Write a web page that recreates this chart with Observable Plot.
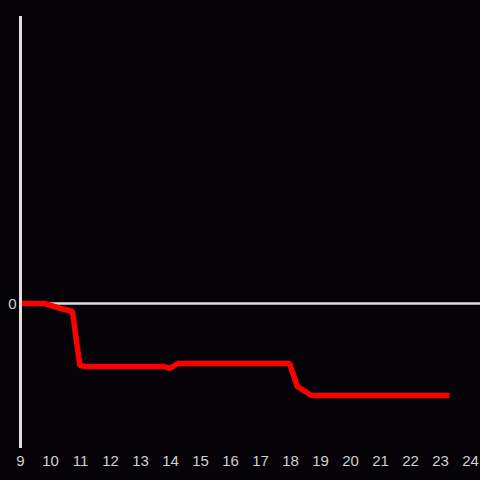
<!DOCTYPE html>
<html>
<head>
<meta charset="utf-8">
<script src="https://cdn.jsdelivr.net/npm/d3@7"></script>
<script src="https://cdn.jsdelivr.net/npm/@observablehq/plot@0.6"></script>
<style>
  html, body { margin: 0; padding: 0; background: #050307; }
  #chart { width: 480px; height: 480px; }
</style>
</head>
<body>
<div id="chart"></div>
<script>
const hours = [9, 9.8, 10.23, 10.73, 10.98, 11.2, 13.8, 13.97, 14.25, 17.97, 18.23, 18.7, 23.3];
const values = [0, 0, -4, -8, -62, -63, -63, -65, -60, -60, -83, -92, -92];
const xTicks = [9, 10, 11, 12, 13, 14, 15, 16, 17, 18, 19, 20, 21, 22, 23, 24];
const yTicks = [0];

const data = hours.map((h, i) => ({x: h, y: values[i]}));

const chart = Plot.plot({
  width: 480,
  height: 480,
  marginLeft: 20,
  marginRight: 0,
  marginTop: 16,
  marginBottom: 32,
  style: {background: "#050307", color: "#d0d0d0", fontFamily: "'Liberation Sans', Arial, sans-serif", fontSize: "15px"},
  x: {domain: [9, 24 + 1/3], label: null},
  y: {domain: [-145, 287], label: null},
  marks: [
    Plot.ruleY([0], {stroke: "#e0e0e0", strokeWidth: 2.5}),
    Plot.line(data, {x: "x", y: "y", stroke: "#ff0000", strokeWidth: 5.5, strokeLinecap: "butt", strokeLinejoin: "miter"}),
    Plot.ruleX([9], {stroke: "#e0e0e0", strokeWidth: 3}),
    Plot.axisX({ticks: xTicks, tickSize: 0, tickPadding: 7, tickFormat: d => String(d), fill: "#d0d0d0", label: null}),
    Plot.axisY({ticks: yTicks, tickSize: 0, tickPadding: 4, dy: 1, tickFormat: d => String(d), fill: "#d0d0d0", label: null})
  ]
});
document.getElementById("chart").appendChild(chart);
</script>
</body>
</html>
